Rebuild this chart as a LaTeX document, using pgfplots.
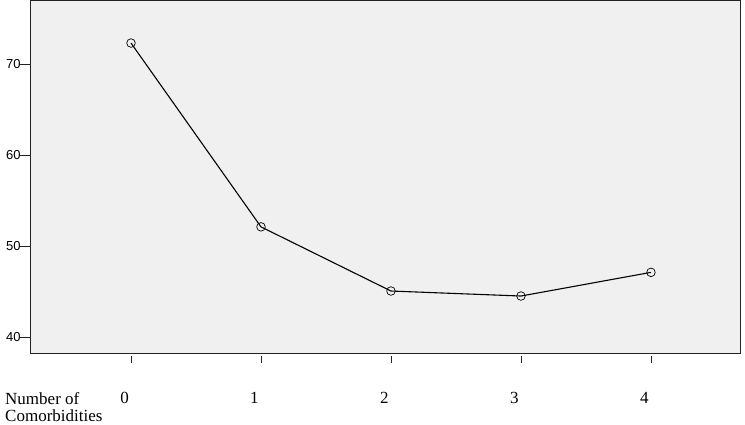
\documentclass[border=0pt]{standalone}
\usepackage{pgfplots}
\pgfplotsset{compat=1.18}
\usepackage{fontspec}
\setmainfont{Liberation Serif}
\newfontfamily\arialfont{Liberation Sans}
\definecolor{bggray}{HTML}{F0F0F0}
\definecolor{axgray}{HTML}{222222}
\begin{document}
\begin{tikzpicture}
\path[use as bounding box] (-30bp,-72bp) rectangle (715bp,353bp);
\begin{axis}[
  at={(0,0)}, anchor=south west,
  scale only axis,
  width=710bp, height=352bp,
  xmin=-0.777, xmax=4.685,
  ymin=38.24, ymax=76.92,
  axis background/.style={fill=bggray},
  axis line style={axgray, line width=1pt},
  xtick={0,1,2,3,4},
  ytick={40,50,60,70},
  tick align=outside,
  xtick pos=bottom, ytick pos=left,
  xtick style={axgray, line width=0.9pt, yshift=-2.5bp, /pgfplots/major tick length=7bp},
  ytick style={axgray, line width=0.9pt, /pgfplots/major tick length=10bp},
  xticklabel style={font=\fontsize{17bp}{19bp}\selectfont, anchor=north, inner sep=0pt, yshift=-35bp, xshift=-6.5bp},
  yticklabel style={font=\arialfont\fontsize{13bp}{15bp}\selectfont, anchor=east, inner sep=0pt, xshift=-5bp},
  /pgf/number format/assume math mode=true,
  clip=false,
]
\addplot[black, line width=1.1pt, mark=o, mark size=4.3bp, mark options={line width=0.7pt}]
  coordinates {(0,72.3) (1,52.1) (2,45.05) (3,44.5) (4,47.1)};
\node[anchor=base west, inner sep=0pt, font=\fontsize{17bp}{19bp}\selectfont] at (axis description cs:-0.0352,-0.145) {Number of};
\node[anchor=base west, inner sep=0pt, font=\fontsize{17bp}{19bp}\selectfont] at (axis description cs:-0.0352,-0.195) {Comorbidities};
\end{axis}
\end{tikzpicture}
\end{document}
